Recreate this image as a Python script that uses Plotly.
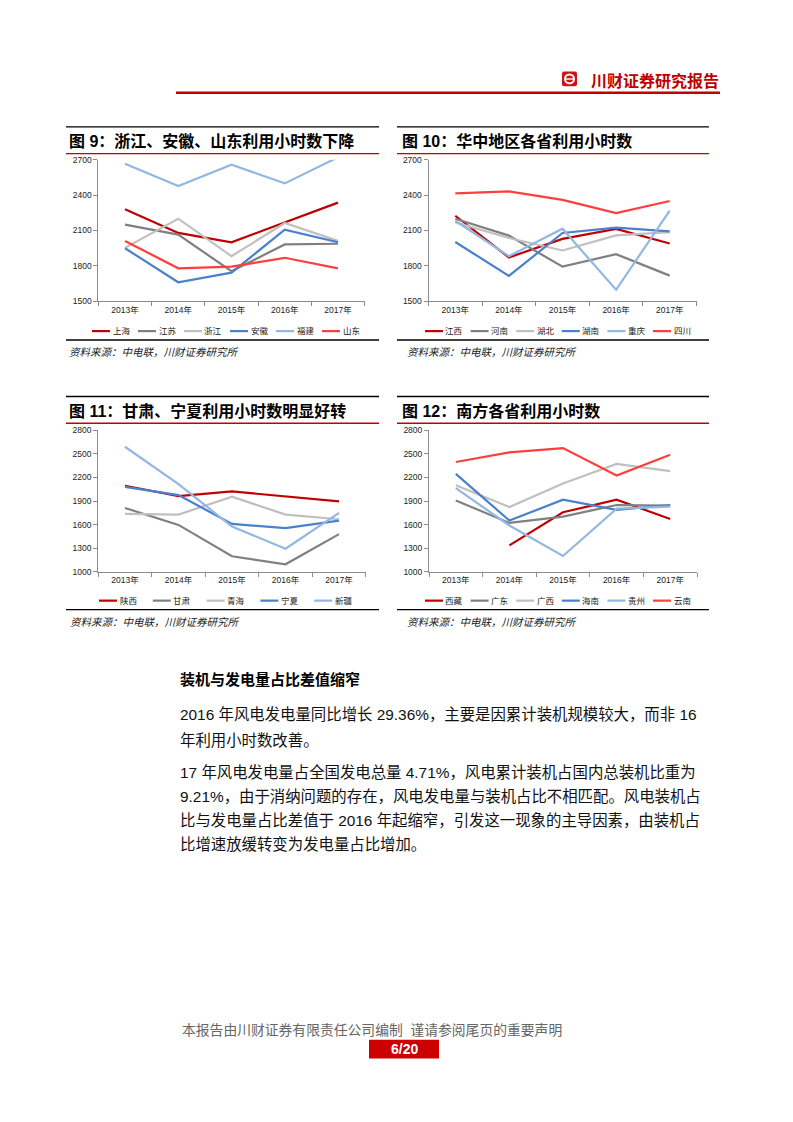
import plotly.graph_objects as go

# ---------------- data ----------------
years = ["2013年", "2014年", "2015年", "2016年", "2017年"]

# 图9
f9_names = ["上海", "江苏", "浙江", "安徽", "福建", "山东"]
f9_shanghai = [2280, 2080, 2000, 2170, 2336]
f9_jiangsu = [2150, 2065, 1755, 1982, 1988]
f9_zhejiang = [1953, 2200, 1883, 2163, 2012]
f9_anhui = [1950, 1662, 1743, 2107, 2001]
f9_fujian = [2666, 2476, 2658, 2499, 2720]
f9_shandong = [2012, 1780, 1794, 1869, 1780]
f9_ticks = [1500, 1800, 2100, 2400, 2700]

# 图10
f10_names = ["江西", "河南", "湖北", "湖南", "重庆", "四川"]
f10_jiangxi = [2225, 1872, 2029, 2113, 1990]
f10_henan = [2200, 2057, 1794, 1900, 1718]
f10_hubei = [2169, 2037, 1931, 2059, 2087]
f10_hunan = [2003, 1715, 2079, 2124, 2093]
f10_chongqing = [2183, 1883, 2115, 1598, 2269]
f10_sichuan = [2415, 2431, 2359, 2247, 2350]
f10_ticks = [1500, 1800, 2100, 2400, 2700]

# 图11
f11_names = ["陕西", "甘肃", "青海", "宁夏", "新疆"]
f11_shaanxi = [2094, 1963, 2022, 1955, 1896]
f11_gansu = [1812, 1597, 1198, 1097, 1480]
f11_qinghai = [1736, 1728, 1955, 1728, 1669]
f11_ningxia = [2081, 1976, 1610, 1555, 1652]
f11_xinjiang = [2590, 2115, 1576, 1295, 1749]
f11_ticks = [1000, 1300, 1600, 1900, 2200, 2500, 2800]

# 图12
f12_names = ["西藏", "广东", "广西", "海南", "贵州", "云南"]
f12_xizang = [None, 1337, 1757, 1917, 1673]
f12_guangdong = [1908, 1622, 1702, 1850, 1841]
f12_guangxi = [2102, 1824, 2123, 2371, 2279]
f12_hainan = [2245, 1652, 1917, 1787, 1850]
f12_guizhou = [2064, 1589, 1202, 1803, 1829]
f12_yunnan = [2396, 2518, 2573, 2224, 2489]
f12_ticks = [1000, 1300, 1600, 1900, 2200, 2500, 2800]

titles = ["图 9：浙江、安徽、山东利用小时数下降", "图 10：华中地区各省利用小时数",
          "图 11：甘肃、宁夏利用小时数明显好转", "图 12：南方各省利用小时数"]
source_text = "资料来源：中电联，川财证券研究所"

header_text = "川财证券研究报告"
heading = "装机与发电量占比差值缩窄"
body_lines = [
    "2016 年风电发电量同比增长 29.36%，主要是因累计装机规模较大，而非 16",
    "年利用小时数改善。",
    "17 年风电发电量占全国发电总量 4.71%，风电累计装机占国内总装机比重为",
    "9.21%，由于消纳问题的存在，风电发电量与装机占比不相匹配。风电装机占",
    "比与发电量占比差值于 2016 年起缩窄，引发这一现象的主导因素，由装机占",
    "比增速放缓转变为发电量占比增加。",
]
footer_text = "本报告由川财证券有限责任公司编制  谨请参阅尾页的重要声明"
page_text = "6/20"

# ---------------- layout helpers ----------------
PAGE_W, PAGE_H = 793, 1122
OFF = 8  # default body margin of the html page
W, H = PAGE_W - 2 * OFF, PAGE_H - 2 * OFF
FONT = "Liberation Sans, Noto Sans CJK SC, sans-serif"
COLORS = ["#C00000", "#808080", "#C0C0C0", "#4A80CC", "#93B7E3", "#FF3F3F"]
DARKRED = "#C00000"


def X(p):
    return (p - OFF) / W


def Y(p):
    return 1 - (p - OFF) / H


fig = go.Figure()
shapes = []
annots = []


def hline(x0, x1, y, color, width):
    shapes.append(dict(type="line", xref="paper", yref="paper", x0=X(x0), x1=X(x1),
                       y0=Y(y), y1=Y(y), line=dict(color=color, width=width)))


def text(x, y, s, size, color="#000", bold=False, italic=False, xanchor="left", family=FONT):
    t = s
    if bold:
        t = "<b>" + t + "</b>"
    if italic:
        t = "<i>" + t + "</i>"
    annots.append(dict(xref="paper", yref="paper", x=X(x), y=Y(y), text=t, showarrow=False,
                       xanchor=xanchor, yanchor="middle",
                       font=dict(size=size, color=color, family=family)))


charts = [
    dict(names=f9_names, series=[f9_shanghai, f9_jiangsu, f9_zhejiang, f9_anhui, f9_fujian, f9_shandong],
         ticks=f9_ticks, box=(66, 379), top=123, title=(67, 137), red=150,
         xdom=(98.4, 364.6), ydom=(156, 299), leg_y=329, leg_x0=92, leg_step=46,
         bottom=338, src=(67, 350)),
    dict(names=f10_names, series=[f10_jiangxi, f10_henan, f10_hubei, f10_hunan, f10_chongqing, f10_sichuan],
         ticks=f10_ticks, box=(397, 709), top=123, title=(400, 137), red=150,
         xdom=(428.5, 696.5), ydom=(156, 299), leg_y=329, leg_x0=425, leg_step=45.6,
         bottom=338, src=(405, 350)),
    dict(names=f11_names, series=[f11_shaanxi, f11_gansu, f11_qinghai, f11_ningxia, f11_xinjiang],
         ticks=f11_ticks, box=(66, 379), top=395, title=(67, 410), red=422,
         xdom=(98.2, 365.8), ydom=(429, 572), leg_y=601, leg_x0=99, leg_step=53.8,
         bottom=610, src=(68, 623)),
    dict(names=f12_names, series=[f12_xizang, f12_guangdong, f12_guangxi, f12_hainan, f12_guizhou, f12_yunnan],
         ticks=f12_ticks, box=(397, 709), top=395, title=(400, 410), red=422,
         xdom=(429, 697), ydom=(429, 572), leg_y=601, leg_x0=425, leg_step=45.6,
         bottom=610, src=(405, 623)),
]

AXC = "#8C8C8C"
for i, c in enumerate(charts):
    n = i + 1
    xa = "x" if n == 1 else f"x{n}"
    ya = "y" if n == 1 else f"y{n}"
    for k, (name, vals) in enumerate(zip(c["names"], c["series"])):
        fig.add_trace(go.Scatter(x=years, y=vals, name=name, mode="lines",
                                 line=dict(color=COLORS[k], width=2.2),
                                 xaxis=xa, yaxis=ya, showlegend=False, connectgaps=False))
    xkey = "xaxis" if n == 1 else f"xaxis{n}"
    ykey = "yaxis" if n == 1 else f"yaxis{n}"
    fig.update_layout(**{
        xkey: dict(domain=[X(c["xdom"][0]), X(c["xdom"][1])], anchor=ya, type="category",
                   categoryorder="array", categoryarray=years, range=[-0.5, 4.5],
                   showline=True, linecolor=AXC, linewidth=1, ticks="outside", ticklen=4,
                   tickcolor=AXC, tickson="boundaries", showgrid=False, zeroline=False,
                   tickfont=dict(size=8.5, color="#222", family=FONT), fixedrange=True),
        ykey: dict(domain=[Y(c["ydom"][1]), Y(c["ydom"][0])], anchor=xa,
                   range=[c["ticks"][0], c["ticks"][-1]], tickvals=c["ticks"],
                   ticktext=[str(t) for t in c["ticks"]],
                   showline=True, linecolor=AXC, linewidth=1, ticks="outside", ticklen=4,
                   tickcolor=AXC, showgrid=False, zeroline=False,
                   tickfont=dict(size=8.5, color="#222", family=FONT), fixedrange=True),
    })
    # frame lines & texts
    hline(c["box"][0], c["box"][1], c["top"], "#000", 1.3)
    hline(c["box"][0], c["box"][1], c["red"], DARKRED, 1.3)
    hline(c["box"][0], c["box"][1], c["bottom"], "#000", 1.3)
    text(c["title"][0], c["title"][1], titles[i], 16, "#000", bold=True)
    text(c["src"][0], c["src"][1], source_text, 10.5, "#222", italic=True)
    # legend
    for k, name in enumerate(c["names"]):
        lx = c["leg_x0"] + k * c["leg_step"]
        shapes.append(dict(type="line", xref="paper", yref="paper", x0=X(lx), x1=X(lx + 18),
                           y0=Y(c["leg_y"]), y1=Y(c["leg_y"]),
                           line=dict(color=COLORS[k], width=2.2)))
        text(lx + 18.5, c["leg_y"], name, 8.5, "#222")

# header
hline(176, 720, 88.5, DARKRED, 2.6)
shapes.append(dict(type="path", xref="paper", yref="paper",
                   path=f"M {X(564)} {Y(67)} L {X(575)} {Y(67)} Q {X(577)} {Y(67)} {X(577)} {Y(69)} "
                        f"L {X(577)} {Y(80)} Q {X(577)} {Y(82)} {X(575)} {Y(82)} L {X(564)} {Y(82)} "
                        f"Q {X(562)} {Y(82)} {X(562)} {Y(80)} L {X(562)} {Y(69)} Q {X(562)} {Y(67)} {X(564)} {Y(67)} Z",
                   fillcolor="#D0121B", line=dict(width=0)))
shapes.append(dict(type="circle", xref="paper", yref="paper", x0=X(564), x1=X(575),
                   y0=Y(80), y1=Y(69), fillcolor="#FFFFFF", line=dict(width=0)))
shapes.append(dict(type="circle", xref="paper", yref="paper", x0=X(566), x1=X(573),
                   y0=Y(78), y1=Y(71), fillcolor="#D0121B", line=dict(width=0)))
shapes.append(dict(type="rect", xref="paper", yref="paper", x0=X(565), x1=X(574),
                   y0=Y(75.3), y1=Y(73.9), fillcolor="#FFFFFF", line=dict(width=0)))
text(589, 77, header_text, 16, DARKRED, bold=True)

# body text
text(178, 681, heading, 15, "#000", bold=True)
body_y = [716, 742, 774, 799, 823, 847]
for s, yy in zip(body_lines, body_y):
    text(178, yy, s, 15.4, "#111")

# footer
text(180, 1034, footer_text, 13.8, "#666")
shapes.append(dict(type="rect", xref="paper", yref="paper", x0=X(369), x1=X(439),
                   y0=Y(1063), y1=Y(1044), fillcolor="#CC0000", line=dict(width=0)))
text(404, 1053.5, page_text, 14, "#FFFFFF", bold=True, xanchor="center")

fig.update_layout(width=W, height=H, margin=dict(l=0, r=0, t=0, b=0),
                  paper_bgcolor="#FFFFFF", plot_bgcolor="#FFFFFF",
                  shapes=shapes, annotations=annots, showlegend=False,
                  font=dict(family=FONT))

fig.write_html("out.html", config={"displayModeBar": False})
